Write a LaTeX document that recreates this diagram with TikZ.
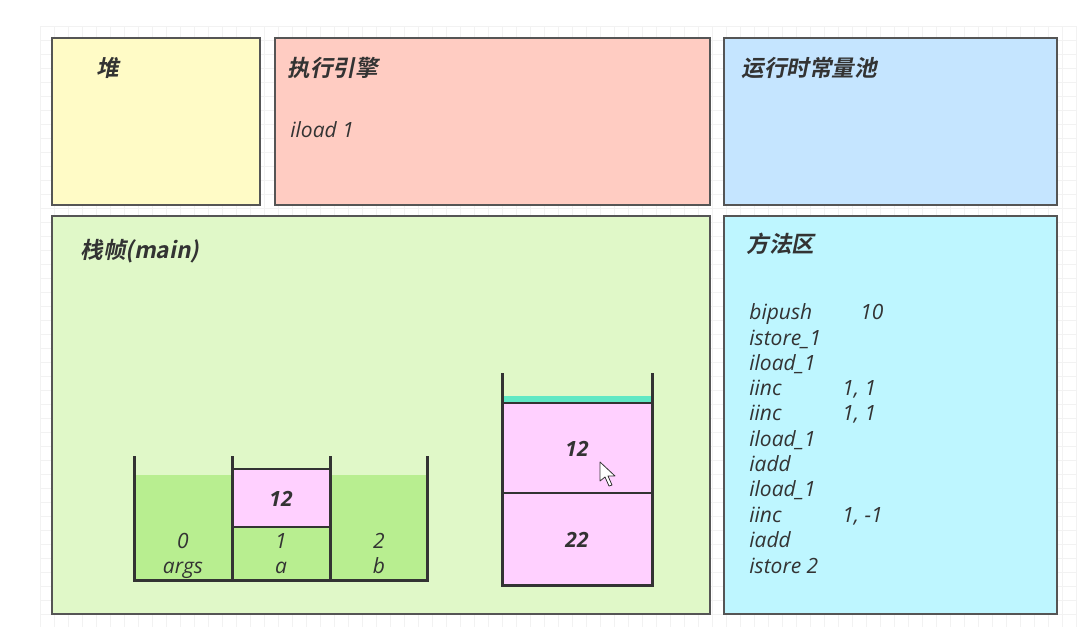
\documentclass[tikz,border=0pt]{standalone}
\usepackage{fontspec}
\setmainfont{Open Sans}
\newfontfamily\cjkbi{Noto Sans CJK SC Bold}[FakeSlant=0.2]
\definecolor{heapc}{HTML}{FFFBC6}
\definecolor{enginec}{HTML}{FFCCC2}
\definecolor{poolc}{HTML}{C5E5FF}
\definecolor{framec}{HTML}{E0F8C8}
\definecolor{methodc}{HTML}{BEF6FF}
\definecolor{edgec}{HTML}{555555}
\definecolor{txtc}{HTML}{333333}
\definecolor{slotc}{HTML}{B8EE90}
\definecolor{pinkc}{HTML}{FFD0FF}
\definecolor{tealc}{HTML}{60E8C4}
\definecolor{wallc}{HTML}{333333}
\tikzset{
  area/.style={draw=edgec, line width=0.75pt},
  title/.style={anchor=west, inner sep=0pt, text=txtc, font=\cjkbi\fontsize{11.3}{13}\selectfont},
  code/.style={anchor=west, inner sep=0pt, text height=7.6pt, text depth=0.6pt, text=txtc, font=\itshape\fontsize{10.5}{12}\selectfont},
  lbl/.style={inner sep=0pt, text height=7.6pt, text depth=0.6pt, text=txtc, font=\itshape\fontsize{10.5}{12}\selectfont},
  val/.style={inner sep=0pt, text height=7.6pt, text depth=0.6pt, text=txtc, font=\bfseries\itshape\fontsize{10.5}{12}\selectfont},
  wall/.style={draw=wallc, line width=1.5pt},
  thin/.style={draw=wallc, line width=0.6pt},
}
\begin{document}
\begin{tikzpicture}[x=0.5pt, y=-0.5pt]
\useasboundingbox (0,0) rectangle (1087,627);
\fill[white] (0,0) rectangle (1087,627);
% faint grid
\foreach \gx in {40,54,...,1076} \draw[black!5, line width=0.3pt] (\gx,26) -- (\gx,627);
\foreach \gy in {26,40,...,627} \draw[black!5, line width=0.3pt] (40,\gy) -- (1076,\gy);
% areas
\filldraw[area, fill=heapc] (52,38) rectangle (260,205);
\filldraw[area, fill=enginec] (275,38) rectangle (710,205);
\filldraw[area, fill=poolc] (724,38) rectangle (1057,205);
\filldraw[area, fill=framec] (52,216) rectangle (710,614);
\filldraw[area, fill=methodc] (724,216) rectangle (1057,614);
% titles
\node[title] (theap) at (96,68) {堆};
\node[title] (tengine) at (287,68) {执行引擎};
\node[title] (tpool) at (741,68) {运行时常量池};
\node[title] (tframe) at (80,251) {栈帧(main)};
\node[title] (tmethod) at (746,244) {方法区};
\node[code] (cur) at (290,130) {iload 1};
% local variable table
\fill[slotc] (134,475) rectangle (427,580);
\filldraw[thin, fill=pinkc] (232,469) rectangle (330,527);
\draw[wall] (134,456) -- (134,580) -- (427,580) -- (427,456);
\draw[wall] (232,456) -- (232,580);
\draw[wall] (330,456) -- (330,580);
\node[val] (lv1) at (281,499) {12};
\node[lbl] (i0) at (183,541) {0};
\node[lbl] (n0) at (183,566) {args};
\node[lbl] (i1) at (281,541) {1};
\node[lbl] (n1) at (281,566) {a};
\node[lbl] (i2) at (379,541) {2};
\node[lbl] (n2) at (379,566) {b};
% operand stack
\fill[pinkc] (502,403) rectangle (652,585);
\fill[tealc] (502,396) rectangle (652,403);
\draw[thin] (502,403) -- (652,403);
\draw[thin] (502,493) -- (652,493);
\draw[wall] (502,373) -- (502,585) -- (652,585) -- (652,373);
\node[val] (s1) at (577,449) {12};
\node[val] (s2) at (577,540) {22};
% mouse cursor
\filldraw[draw=black!80, fill=white, line width=0.4pt, line join=round]
  (600,462) -- (600,481) -- (605,477) -- (609,486) -- (612,485) -- (608,476) -- (615,476) -- cycle;
% method area code
\node[code] (m1) at (749,312) {bipush};
\node[code] (m1a) at (860,312) {10};
\node[code] (m2) at (749,338) {istore\_1};
\node[code] (m3) at (749,363) {iload\_1};
\node[code] (m4) at (749,388) {iinc};
\node[code] (m4a) at (842,388) {1, 1};
\node[code] (m5) at (749,413) {iinc};
\node[code] (m5a) at (842,413) {1, 1};
\node[code] (m6) at (749,439) {iload\_1};
\node[code] (m7) at (749,464) {iadd};
\node[code] (m8) at (749,489) {iload\_1};
\node[code] (m9) at (749,515) {iinc};
\node[code] (m9a) at (842,515) {1, -1};
\node[code] (m10) at (749,540) {iadd};
\node[code] (m11) at (749,566) {istore 2};
\end{tikzpicture}
\end{document}
